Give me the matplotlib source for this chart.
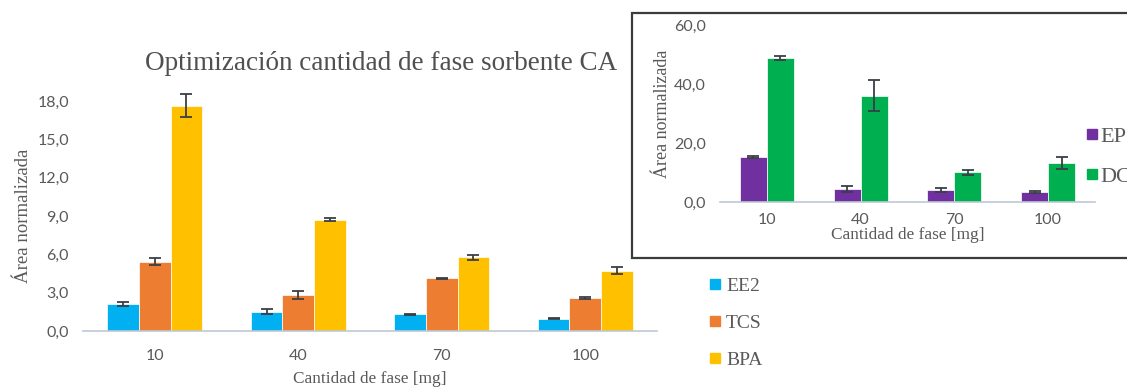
import matplotlib.pyplot as plt
import matplotlib.patches as mpatches
from matplotlib.lines import Line2D
import numpy as np

# cantidad de fase sorbente [mg]
categorias = ['10', '40', '70', '100']

# grafico principal
ee2 = [2.11, 1.51, 1.30, 0.97]
ee2_err = [0.15, 0.20, 0.05, 0.05]
tcs = [5.43, 2.82, 4.12, 2.58]
tcs_err = [0.25, 0.30, 0.05, 0.05]
bpa = [17.64, 8.69, 5.77, 4.72]
bpa_err = [0.88, 0.12, 0.20, 0.25]

# grafico insertado
ep = [15.3, 4.5, 4.1, 3.5]
ep_err = [0.4, 1.0, 0.8, 0.3]
dc = [48.9, 36.1, 10.1, 13.2]
dc_err = [0.7, 5.1, 0.9, 2.0]

ticks_main = [0, 3, 6, 9, 12, 15, 18]
ticks_inset = [0, 20, 40, 60]

serif = 'Liberation Serif'
sans = 'Lato'
gris = '#595959'
eje = '#BFC8D6'
err_kw = dict(ecolor='#3a3f47', elinewidth=1.3, capsize=4, capthick=1.3)

W, H = 1127, 390
fig = plt.figure(figsize=(W / 100, H / 100), dpi=100)

def coma(v):
    return f'{v:.1f}'.replace('.', ',')

def estilo(ax, ticks):
    for s in ['top', 'right', 'left']:
        ax.spines[s].set_visible(False)
    ax.spines['bottom'].set_color(eje)
    ax.spines['bottom'].set_linewidth(1.2)
    ax.tick_params(length=0, labelsize=11.5, labelcolor=gris)
    ax.set_yticks(ticks)
    ax.set_yticklabels([coma(t) for t in ticks], family=sans)
    ax.set_xticks(np.arange(len(categorias)))
    ax.set_xticklabels(categorias, family=sans)

# --- grafico principal ---
ax = fig.add_axes([83 / W, 1 - 331 / H, 574 / W, 230 / H])
x = np.arange(len(categorias))
w = 0.221
for off, vals, errs, col in [(-w, ee2, ee2_err, '#00B0F0'),
                             (0, tcs, tcs_err, '#ED7D31'),
                             (w, bpa, bpa_err, '#FFC000')]:
    bars = ax.bar(x + off, vals, w, color=col, edgecolor='white', linewidth=0.5,
                  yerr=errs, error_kw=err_kw)
    for c in bars.errorbar.lines[2] + bars.errorbar.lines[1]:
        c.set_clip_on(False)
ax.set_xlim(-0.5, 3.5)
ax.set_ylim(0, 18)
estilo(ax, ticks_main)
ax.tick_params(axis='x', pad=13)
ax.tick_params(axis='y', pad=10)
ax.set_ylabel('Área normalizada', family=serif, fontsize=13.5, color=gris, labelpad=4)
ax.set_xlabel('Cantidad de fase [mg]', family=serif, fontsize=12.4, color=gris, labelpad=6)

fig.text(381 / W, 1 - 63 / H, 'Optimización cantidad de fase sorbente CA',
         ha='center', va='center', family=serif, fontsize=19.5, color='#505050')

handles = [Line2D([], [], marker='s', ls='', markersize=7.5, color=c)
           for c in ['#00B0F0', '#ED7D31', '#FFC000']]
fig.legend(handles, ['EE2', 'TCS', 'BPA'], loc='upper left',
           bbox_to_anchor=(692 / W, 1 - 260 / H), frameon=False,
           prop={'family': serif, 'size': 14}, labelcolor=gris,
           handlelength=0.6, handletextpad=0.25, labelspacing=1.0)

# --- grafico insertado ---
fig.patches.append(mpatches.Rectangle((632 / W, 1 - 258 / H), 600 / W, 245 / H,
                                      transform=fig.transFigure, facecolor='white',
                                      edgecolor='#3c3c3c', linewidth=1.6, zorder=3))
ax2 = fig.add_axes([720 / W, 1 - 202 / H, 375 / W, 177 / H], zorder=4)
ax2.patch.set_alpha(0)
w2 = 0.287
for off, vals, errs, col in [(-w2 / 2, ep, ep_err, '#7030A0'),
                             (w2 / 2, dc, dc_err, '#00B050')]:
    ax2.bar(x + off, vals, w2, color=col, edgecolor='white', linewidth=0.5,
            yerr=errs, error_kw=err_kw)
ax2.set_xlim(-0.5, 3.5)
ax2.set_ylim(0, 60)
estilo(ax2, ticks_inset)
ax2.tick_params(axis='x', pad=8)
ax2.tick_params(axis='y', pad=10)
ax2.set_ylabel('Área normalizada', family=serif, fontsize=13, color=gris, labelpad=2)
ax2.set_xlabel('Cantidad de fase [mg]', family=serif, fontsize=12.4, color=gris, labelpad=0)

handles2 = [Line2D([], [], marker='s', ls='', markersize=7.5, color=c)
            for c in ['#7030A0', '#00B050']]
ax2.legend(handles2, ['EP', 'DC'], loc='upper left',
           bbox_to_anchor=(1066 / W, 1 - 106 / H), bbox_transform=fig.transFigure,
           frameon=False, prop={'family': serif, 'size': 16}, labelcolor=gris,
           handlelength=0.5, handletextpad=0.15, labelspacing=0.9)

fig.savefig('out.png', dpi=100)
